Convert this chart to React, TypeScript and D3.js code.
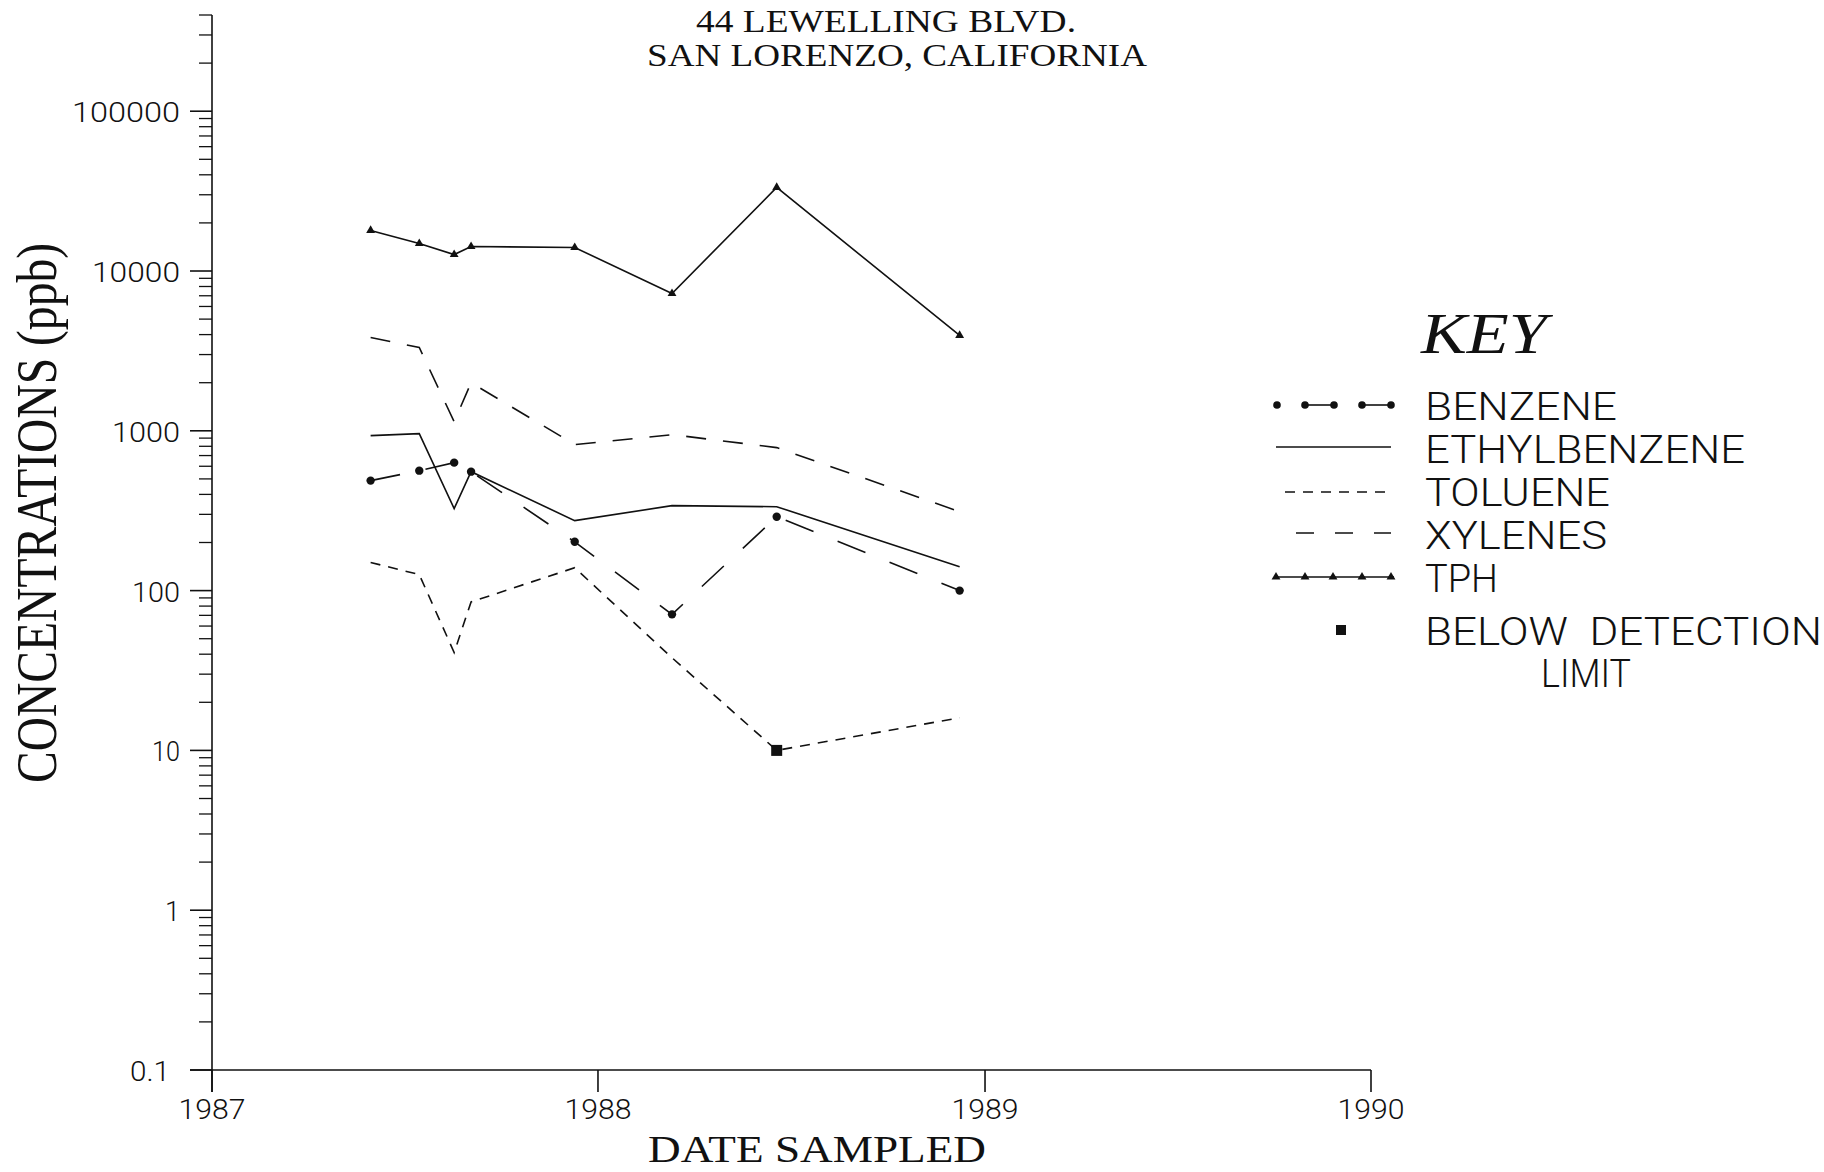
import * as React from 'react';
import * as d3 from 'd3';

// sampling dates
const sampleDates = [
    '1987-05-31', '1987-07-16', '1987-08-18', '1987-09-03',
    '1987-12-10', '1988-03-11', '1988-06-18', '1988-12-08'
];

// concentrations in ppb
const benzene = [488, 563, 632, 555, 202, 71, 290, 100];
const ethylbenzene = [933, 960, 326, 555, 274, 340, 335, 141];
const toluene = [150, 126, 41, 85, 139, 38, 10, 16];
const xylenes = [3840, 3320, 1140, 2000, 820, 946, 785, 312];
const tph = [17950, 14860, 12680, 14230, 14030, 7230, 33340, 3950];
// toluene sample that came back below the detection limit
const tolueneBelowLimit = [false, false, false, false, false, false, true, false];

const yearTicks = [1987, 1988, 1989, 1990];
const concTicks = [0.1, 1, 10, 100, 1000, 10000, 100000];
const concTickLabels = ['0.1', '1', '10', '100', '1000', '10000', '100000'];
const legendLabels = ['BENZENE', 'ETHYLBENZENE', 'TOLUENE', 'XYLENES', 'TPH'];

const parseDate = d3.timeParse('%Y-%m-%d');
const sans = "Roboto, 'DejaVu Sans', sans-serif";
const serif = "'Liberation Serif', 'DejaVu Serif', serif";

const labelWidths: { [key: string]: number } = {
    '0.1': 40, '1': 0, '10': 28, '100': 48, '1000': 68, '10000': 88, '100000': 108
};

type Pt = [Date, number];

const App = () => {
    const dates = sampleDates.map((d) => parseDate(d)!);

    const x = d3.scaleTime()
        .domain([new Date(1987, 0, 1), new Date(1990, 0, 1)])
        .range([212, 1371]);
    const y = d3.scaleLog()
        .domain([0.1, 400000])
        .range([1070, 15]);

    const line = d3.line<Pt>().x((d) => x(d[0])).y((d) => y(d[1]));
    const pts = (vals: number[]): Pt[] => vals.map((v, i) => [dates[i], v]);

    const series = [
        { key: 'benzene', values: benzene, dash: '30 26' },
        { key: 'ethylbenzene', values: ethylbenzene, dash: '' },
        { key: 'toluene', values: toluene, dash: '10 8' },
        { key: 'xylenes', values: xylenes, dash: '20 17' },
        { key: 'tph', values: tph, dash: '' },
    ];

    // log minor ticks
    const minor: number[] = [];
    for (let e = -1; e <= 5; e++) {
        for (let k = 2; k <= 9; k++) {
            const v = k * Math.pow(10, e);
            if (v <= 400000) minor.push(v);
        }
    }

    const tri = d3.symbol(d3.symbolTriangle, 34)()!;
    const axisY0 = y(0.1);

    const legendY = [420, 463, 506, 549, 592];

    return (
        <svg width={1824} height={1172} style={{ position: 'absolute', left: 0, top: 0, background: '#fff' }}>
            {/* title */}
            <g fontFamily={serif} fill="#111" textAnchor="middle" fontSize={32}>
                <text x={886} y={32} textLength={380} lengthAdjust="spacingAndGlyphs">44 LEWELLING BLVD.</text>
                <text x={897} y={66} textLength={500} lengthAdjust="spacingAndGlyphs">SAN LORENZO, CALIFORNIA</text>
            </g>

            {/* y axis */}
            <g stroke="#111" strokeWidth={1.6}>
                <line x1={212} x2={212} y1={15} y2={axisY0 + 22} />
                {concTicks.map((t) => (
                    <line key={'M' + t} x1={190} x2={212} y1={y(t)} y2={y(t)} />
                ))}
                {minor.map((t) => (
                    <line key={'m' + t} x1={199} x2={212} y1={y(t)} y2={y(t)} strokeWidth={1.3} />
                ))}
            </g>
            <g fontFamily={sans} fontWeight={300} fontSize={27} fill="#111" textAnchor="end">
                {concTicks.map((t, i) => (
                    <text key={t} x={concTickLabels[i] === '0.1' ? 170 : 180} y={y(t) + 11}
                        {...(labelWidths[concTickLabels[i]] ? { textLength: labelWidths[concTickLabels[i]], lengthAdjust: 'spacingAndGlyphs' } : {})}>
                        {concTickLabels[i]}
                    </text>
                ))}
            </g>
            <text transform={`translate(56,513) rotate(-90)`} textAnchor="middle" fontFamily={serif}
                fontSize={56} fill="#111" textLength={540} lengthAdjust="spacingAndGlyphs">CONCENTRATIONS (ppb)</text>

            {/* x axis */}
            <g stroke="#111" strokeWidth={1.6}>
                <line x1={190} x2={x(new Date(1990, 0, 1))} y1={axisY0} y2={axisY0} />
                {yearTicks.map((yr) => (
                    <line key={yr} x1={x(new Date(yr, 0, 1))} x2={x(new Date(yr, 0, 1))} y1={axisY0} y2={axisY0 + 22} />
                ))}
            </g>
            <g fontFamily={sans} fontWeight={300} fontSize={28} fill="#111" textAnchor="middle">
                {yearTicks.map((yr) => (
                    <text key={yr} x={x(new Date(yr, 0, 1))} y={1119} textLength={67} lengthAdjust="spacingAndGlyphs">{yr}</text>
                ))}
            </g>
            <text x={817} y={1162} textAnchor="middle" fontFamily={serif} fontSize={37} fill="#111"
                textLength={338} lengthAdjust="spacingAndGlyphs">DATE SAMPLED</text>

            {/* series */}
            <g fill="none" stroke="#111" strokeWidth={1.6}>
                {series.map((s) => (
                    <path key={s.key} d={line(pts(s.values))!} strokeDasharray={s.dash || undefined} />
                ))}
            </g>
            <g fill="#111">
                {benzene.map((v, i) => (
                    <circle key={i} cx={x(dates[i])} cy={y(v)} r={4.2} />
                ))}
                {tph.map((v, i) => (
                    <path key={i} d={tri} transform={`translate(${x(dates[i])},${y(v)})`} />
                ))}
                {toluene.map((v, i) => tolueneBelowLimit[i] ? (
                    <rect key={i} x={x(dates[i]) - 5.5} y={y(v) - 5.5} width={11} height={11} />
                ) : null)}
            </g>

            {/* key */}
            <text x={1421} y={353} fontFamily={serif} fontStyle="italic" fontSize={57} fill="#111"
                textLength={126} lengthAdjust="spacingAndGlyphs">KEY</text>
            <g stroke="#111" strokeWidth={1.6} fill="#111">
                {/* benzene */}
                <line x1={1305} x2={1334} y1={legendY[0] - 15} y2={legendY[0] - 15} />
                <line x1={1362} x2={1391} y1={legendY[0] - 15} y2={legendY[0] - 15} />
                {[1277, 1305, 1334, 1362, 1391].map((cx) => (
                    <circle key={cx} cx={cx} cy={legendY[0] - 15} r={3.8} stroke="none" />
                ))}
                {/* ethylbenzene */}
                <line x1={1276} x2={1391} y1={legendY[1] - 16} y2={legendY[1] - 16} />
                {/* toluene */}
                <line x1={1285} x2={1391} y1={legendY[2] - 14} y2={legendY[2] - 14} strokeDasharray="10 8" />
                {/* xylenes */}
                <line x1={1296} x2={1391} y1={legendY[3] - 16} y2={legendY[3] - 16} strokeDasharray="18 21" />
                {/* tph */}
                <line x1={1274} x2={1394} y1={legendY[4] - 15} y2={legendY[4] - 15} />
                {[1276, 1305, 1333, 1362, 1391].map((cx) => (
                    <path key={cx} d={tri} transform={`translate(${cx},${legendY[4] - 15})`} stroke="none" />
                ))}
                <rect x={1336} y={625} width={10} height={10} stroke="none" />
            </g>
            <g fontFamily={sans} fontWeight={300} fontSize={39} fill="#111">
                {legendLabels.map((lab, i) => (
                    <text key={lab} x={1425} y={legendY[i]}
                        textLength={[192, 320, 185, 182, 73][i]} lengthAdjust="spacingAndGlyphs">{lab}</text>
                ))}
                <text x={1425} y={645} textLength={397} lengthAdjust="spacingAndGlyphs" style={{ whiteSpace: 'pre' }}>BELOW  DETECTION</text>
                <text x={1541} y={687} textLength={90} lengthAdjust="spacingAndGlyphs">LIMIT</text>
            </g>
        </svg>
    );
};

export default App;
